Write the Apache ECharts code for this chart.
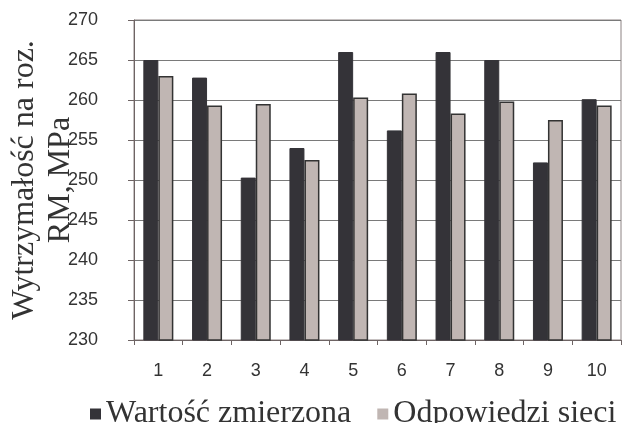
<!DOCTYPE html>
<html>
<head>
<meta charset="utf-8">
<script src="https://cdn.jsdelivr.net/npm/echarts@6/dist/echarts.min.js"></script>
<style>
  html, body { margin: 0; padding: 0; background: #fff; }
  #chart { width: 622px; height: 423px; }
</style>
</head>
<body>
<div id="chart"></div>
<script>
// dane z wykresu
var categories = ["1", "2", "3", "4", "5", "6", "7", "8", "9", "10"];
var measured = [265, 262.8, 250.3, 254, 266, 256.2, 266, 265, 252.2, 260.1];
var network = [263, 259.3, 259.5, 252.5, 260.3, 260.8, 258.3, 259.8, 257.5, 259.3];
var seriesNames = ["Wartość zmierzona", "Odpowiedzi sieci"];
var yTitle = "Wytrzymałość na roz.\nRM, MPa";

var myChart = echarts.init(document.getElementById("chart"));
myChart.setOption({
  animation: false,
  grid: {
    left: 134,
    right: 1,
    top: 20,
    bottom: 83,
    outerBoundsMode: "none",
    containLabel: false,
    show: true,
    borderColor: "#8c8282",
    borderWidth: 1,
  },
  legend: {
    left: 85,
    top: 393,
    width: 800,
    itemWidth: 11,
    itemHeight: 11,
    itemGap: 26,
    icon: "rect",
    textStyle: {
      fontFamily: "Liberation Serif",
      fontSize: 32,
      color: "#333",
    },
    data: [
      { name: seriesNames[0], itemStyle: { color: "#343338", borderWidth: 0 } },
      { name: seriesNames[1], itemStyle: { color: "#c0b6b3", borderWidth: 0 } },
    ],
  },
  xAxis: {
    type: "category",
    data: categories,
    axisLine: { lineStyle: { color: "#6e6464", width: 1 } },
    axisTick: { show: true, length: 5, lineStyle: { color: "#6e6464" } },
    axisLabel: {
      margin: 22,
      fontFamily: "Liberation Sans",
      fontSize: 18,
      color: "#333",
    },
  },
  yAxis: {
    type: "value",
    min: 230,
    max: 270,
    interval: 5,
    name: yTitle,
    nameLocation: "middle",
    nameRotate: 90,
    nameGap: 55,
    nameMoveOverlap: false,
    nameTextStyle: {
      fontFamily: "Liberation Serif",
      fontSize: 32,
      lineHeight: 36,
      color: "#333",
      align: "center",
    },
    axisLine: { show: true, lineStyle: { color: "#6e6464", width: 1 } },
    axisTick: { show: true, length: 6, lineStyle: { color: "#6e6464" } },
    axisLabel: {
      margin: 36,
      fontFamily: "Liberation Sans",
      fontSize: 18,
      color: "#333",
    },
    splitLine: { lineStyle: { color: "#7a7a7a", width: 1 } },
  },
  series: [
    {
      name: seriesNames[0],
      type: "bar",
      barWidth: 15,
      barGap: "0%",
      data: measured,
      itemStyle: { color: "#343338", borderColor: "#343338", borderWidth: 1 },
    },
    {
      name: seriesNames[1],
      type: "bar",
      barWidth: 15,
      data: network,
      itemStyle: { color: "#c0b6b3", borderColor: "#333", borderWidth: 1.5 },
    },
  ],
});
</script>
</body>
</html>
